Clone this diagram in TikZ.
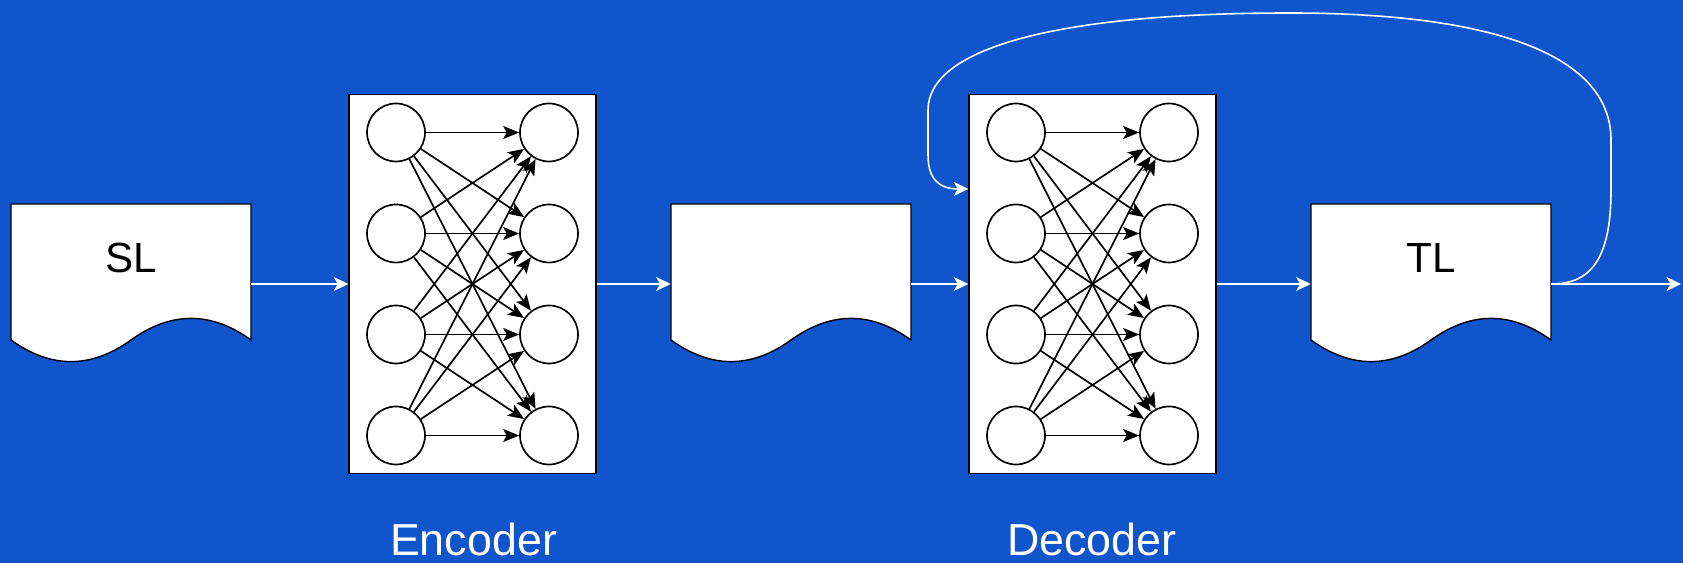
\documentclass[tikz,border=0pt]{standalone}
\usepackage{fontspec}
\setmainfont{Liberation Sans}
\usepackage{tikz}
\usetikzlibrary{arrows.meta, positioning, calc}
\definecolor{bgblue}{HTML}{1155CC}
\tikzset{
  docbox/.style={rectangle, minimum width=4.8cm, minimum height=3.2cm, inner sep=0pt, text height=0.6cm, text depth=1.04cm, font=\fontsize{24}{28}\selectfont},
  document/.pic={
    \draw[fill=white, line width=0.8pt] (-2.4,1.6) -- (2.4,1.6) -- (2.4,-1.12)
      .. controls (1.6,-0.544) and (0.8,-0.544) .. (0,-1.12)
      .. controls (-0.8,-1.696) and (-1.6,-1.696) .. (-2.4,-1.12) -- cycle;
    \node[docbox] (-box) at (0,0) {#1};
  },
  netbox/.style={rectangle, draw, fill=white, minimum width=4.94cm, minimum height=7.58cm, line width=0.8pt},
  neuron/.style={circle, draw, fill=white, minimum size=1.16cm, inner sep=0pt, line width=0.95pt},
  link/.style={-{Stealth[length=3.2mm, width=2.6mm, inset=0.7mm]}, line width=0.95pt},
  flow/.style={-{Stealth[length=2.9mm, width=2.8mm, inset=0.8mm]}, draw=white, line width=0.9pt},
  lbl/.style={font=\fontsize{25.5}{30}\selectfont, text=white, anchor=base, inner sep=0pt},
}
\begin{document}
\begin{tikzpicture}
  \useasboundingbox (0,0) rectangle (33.66,11.26);
  \fill[bgblue] (0,0) rectangle (33.66,11.26);

  % documents
  \pic (sl) at (2.62,5.58) {document=SL};
  \pic (mid) at (15.82,5.58) {document=};
  \pic (tl) at (28.62,5.58) {document=TL};

  % encoder / decoder networks
  \node[netbox] (enc) at (9.45,5.58) {};
  \node[netbox] (dec) at (21.85,5.58) {};
  \foreach \b in {enc,dec} {
    \foreach \i/\y in {1/3.03, 2/1.01, 3/-1.01, 4/-3.03} {
      \node[neuron] (\b l\i) at ([shift={(-1.53,\y)}]\b.center) {};
      \node[neuron] (\b r\i) at ([shift={(1.53,\y)}]\b.center) {};
    }
    \foreach \i in {1,...,4} {
      \foreach \j in {1,...,4} { \draw[link] (\b l\i) -- (\b r\j); }
    }
  }

  \node[lbl] (enclbl) at (9.47,0.14) {Encoder};
  \node[lbl] (declbl) at (21.84,0.14) {Decoder};

  % main flow
  \coordinate (exit) at (33.62,5.58);
  \draw[flow] (sl-box.east) -- (enc.west);
  \draw[flow] (enc.east) -- (mid-box.west);
  \draw[flow] (mid-box.east) -- (dec.west);
  \draw[flow] (dec.east) -- (tl-box.west);
  \draw[flow] (tl-box.east) -- (exit);

  % feedback into the decoder
  \draw[flow] (tl-box.east) .. controls (31.8,5.58) and (32.22,6.06) .. (32.22,7.46)
    -- (32.22,8.46)
    .. controls (32.22,10.26) and (29.6,11.0) .. (25.8,11.0)
    .. controls (21.0,11.0) and (18.56,10.26) .. (18.56,9.06)
    -- (18.56,8.16)
    .. controls (18.56,7.66) and (18.8,7.48) .. ($(dec.north west)!0.25!(dec.south west)$);
\end{tikzpicture}
\end{document}
